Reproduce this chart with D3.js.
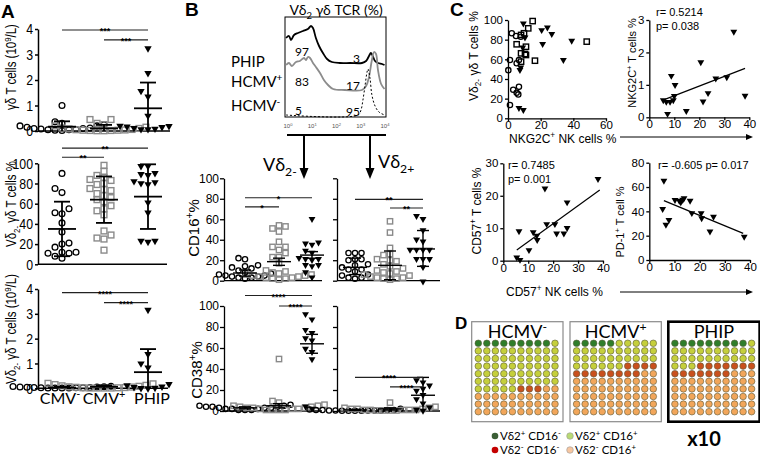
<!DOCTYPE html>
<html><head><meta charset="utf-8">
<script src="https://cdn.jsdelivr.net/npm/d3@7/dist/d3.min.js"></script>
<style>html,body{margin:0;padding:0;background:#fff}svg{display:block}</style>
</head><body>
<svg id="fig" width="760" height="456" viewBox="0 0 760 456"></svg>
<script>
// ================= DATA =================
const groupsA = ["CMV-", "CMV+", "PHIP"];
const histGroups = ["PHIP", "HCMV+", "HCMV-"];
const dGroups = ["HCMV-", "HCMV+", "PHIP"];
const subsetLabels = ["Vδ2+ CD16-", "Vδ2+ CD16+", "Vδ2- CD16-", "Vδ2- CD16+"];

// Panel A, top: γδ T cells (10^9/L)
const a1Neg = [1.0, 0.36, 0.3, 0.25, 0.2, 0.2, 0.15, 0.12, 0.1, 0.1, 0.08, 0.06, 0.05, 0.05, 0.03, 0.02];
const a1Pos = [0.45, 0.45, 0.3, 0.25, 0.2, 0.15, 0.12, 0.1, 0.08, 0.06, 0.05, 0.04, 0.03, 0.03, 0.02, 0.02, 0.01, 0.01];
const a1Phip = [3.27, 2.3, 1.6, 1.38, 0.63, 0.23, 0.22, 0.2, 0.18, 0.15, 0.12, 0.1, 0.1];
const a1Stats = [[0.17, 0, 0.38], [0.1, 0, 0.24], [0.89, 0, 1.9]];
const a1Sig = [[0, 2, "***", 3.96], [1, 2, "***", 3.57]];

// Panel A, middle: Vδ2- γδ T cells %
const a2Neg = [90, 75, 71, 55, 51, 50, 41, 32, 21, 20, 17, 12, 12, 11, 11, 8, 6];
const a2Pos = [98, 92, 88, 86, 84, 83, 80, 79, 75, 74, 73, 70, 68, 66, 64, 62, 58, 55, 53, 49, 33, 29, 26, 25, 14];
const a2Phip = [98, 98, 91, 90, 89, 83, 82, 81, 80, 62, 52, 24, 23, 24];
const a2Stats = [[35, 8, 62], [64, 41, 87], [67, 35, 99]];
const a2Sig = [[0, 2, "**", 115], [0, 1, "**", 106]];

// Panel A, bottom: Vδ2- γδ T cells (10^9/L)
const a3Neg = [0.08, 0.07, 0.06, 0.05, 0.05, 0.04, 0.03, 0.03, 0.02, 0.02, 0.02, 0.01, 0.01, 0.01, 0.01];
const a3Pos = [0.2, 0.18, 0.15, 0.12, 0.1, 0.08, 0.06, 0.05, 0.04, 0.03, 0.02, 0.02, 0.01, 0.01, 0.01, 0.01];
const a3Phip = [3.19, 1.41, 1.03, 0.87, 0.2, 0.15, 0.1, 0.08, 0.05, 0.04, 0.03];
const a3Stats = [[0.03, 0, 0.06], [0.06, 0, 0.12], [0.65, 0, 1.58]];
const a3Sig = [[0, 2, "****", 3.85], [1, 2, "****", 3.45]];

// Panel B histogram: [log10 intensity, relative count]
const histPhip = [[-0.08,28],[0.04,30],[0.12,26],[0.25,31],[0.41,33],[0.62,35],[0.82,37],[0.95,40],[1.03,38],[1.15,28],[1.28,20],[1.44,13],[1.61,7],[1.81,4],[2.14,3],[2.56,3],[3.05,3],[3.22,5],[3.34,10],[3.42,13],[3.51,9],[3.59,5],[3.71,3],[3.88,2],[3.98,1]];
const histPos = [[-0.08,25],[0.04,27],[0.16,24],[0.33,28],[0.49,29],[0.66,32],[0.74,30],[0.82,33],[0.91,32],[1.03,27],[1.15,23],[1.32,17],[1.48,10],[1.65,5],[1.86,1],[2.35,0],[3.05,0],[3.22,4],[3.34,13],[3.46,30],[3.55,38],[3.63,36],[3.71,20],[3.84,6],[3.98,1]];
const histNeg = [[-0.08,0],[2.89,0],[3.01,5],[3.09,15],[3.18,30],[3.26,43],[3.3,46],[3.38,37],[3.46,20],[3.59,9],[3.75,3],[3.98,0]];
const histPct = [[97, 3], [83, 17], [5, 95]];
const histTicks = [0, 1, 2, 3, 4];

// Panel B: CD16+ % (Vδ2- left, Vδ2+ right)
const b16nNeg = [22, 21, 15, 14, 13, 12, 10, 8, 7, 6, 5, 5, 4, 4, 3, 3, 2];
const b16nPos = [54, 53, 51, 48, 38, 33, 33, 30, 27, 23, 23, 17, 10, 9, 8, 7, 6, 6, 5, 5, 4, 4, 3, 3, 2, 2, 1];
const b16nPhip = [61, 38, 37, 36, 30, 28, 23, 22, 22, 21, 16, 16, 15, 9, 4];
const b16nStats = [[7.5, 4.5, 10.5], [18.6, 15, 22], [25, 22, 28.4]];
const b16nSig = [[0, 2, "*", 81], [0, 1, "*", 72]];
const b16pNeg = [27, 27, 27, 21, 21, 20, 16, 15, 13, 11, 11, 9, 6, 5, 3, 3, 2];
const b16pPos = [58, 47, 32, 26, 25, 21, 20, 19, 16, 14, 12, 10, 9, 8, 7, 6, 5, 4, 3, 3, 2, 2, 1];
const b16pPhip = [64, 61, 50, 41, 39, 31, 31, 31, 31, 22, 22, 22, 14, 0];
const b16pStats = [[13, 6, 22], [15, 1, 29], [31, 14, 49]];
const b16pSig = [[0, 2, "**", 79.5], [1, 2, "**", 71]];
// Panel B: CD38+ %
const b38nNeg = [6, 5, 5, 4, 4, 4, 3, 3, 3, 2, 2, 2, 1, 1, 1];
const b38nPos = [49.5, 9.5, 8, 6, 5, 5, 4, 4, 3, 3, 3, 2, 2, 2, 1, 1, 1, 1];
const b38nPhip = [93, 88, 78, 75, 70, 68, 60, 57, 50, 5, 3];
const b38nStats = [[3, 2, 4], [5, 3, 7], [64, 55, 73]];
const b38nSig = [[0, 2, "****", 110], [1, 2, "****", 100]];
const b38pNeg = [2, 1.5, 1, 1, 1, 1, 0.5, 0.5, 0.5, 0.5, 0.5, 0.3, 0.3, 0.2, 0.2];
const b38pPos = [8, 4, 3, 3, 2, 2, 2, 1, 1, 1, 1, 1, 0.5, 0.5, 0.5, 0.5];
const b38pPhip = [30, 28, 25, 22, 20, 16, 12, 8, 4, 2, 1];
const b38pStats = [[1, 0.5, 1.5], [2, 1, 3], [15, 0, 32]];
const b38pSig = [[0, 2, "****", 32], [1, 2, "****", 23]];

// Panel C1: NKG2C+ NK cells % (x) vs Vδ2- γδ T cells % (y)
const c1NegX = [2.3, 4.9, 7.8, 1.2, 0.2, 5.3, 6.7, 3.2, 5.3, 6.3, 6.7, 1.2];
const c1NegY = [86.5, 83.7, 83, 59.3, 49, 56, 59.3, 29, 26, 24.3, 32, 13.5];
const c1PosX = [15.1, 12.4, 9.8, 8.0, 5.3, 11.0, 10.4, 11.0, 8.0, 8.0, 16.5, 48.2];
const c1PosY = [98.9, 91.5, 86.5, 84.8, 75.3, 72.8, 65.4, 64.4, 66.1, 57.6, 58.6, 78];
const c1PhipX = [9.4, 10.4, 9.0, 7.8, 7.3, 6.7, 9.4, 20.6, 24.1, 26.8, 21.2, 33.9, 39.0];
const c1PhipY = [97.3, 83, 72.8, 52.5, 50, 11.2, 9.2, 90.5, 93.2, 86.5, 76.3, 60, 79.6];
// Panel C2: NKG2C+ NK cells % vs NKG2C+ T cells %
const c2X = [5.6, 6.8, 8.3, 9.6, 7.3, 8.8, 10.3, 10.0, 14.8, 20.6, 21.5, 23.5, 26.6, 31.0, 33.8, 38.3];
const c2Y = [0.55, 0.5, 0.5, 0.55, 0.13, 1.3, 1.02, 0.68, 0.22, 1.72, 0.51, 0.77, 1.22, 1.26, 2.66, 0.69];
const c2Fit = [[6.5, 0.56], [38.3, 1.51]];
const c2Stat = ["r= 0.5214", "p= 0.038"];
// Panel C3: CD57+ NK cells % vs CD57+ T cells %
const c3X = [5.4, 6.7, 6.3, 10.3, 12.0, 13.4, 13.6, 16.7, 17.4, 20.7, 21.4, 24.3, 25.6, 25.6, 38.0];
const c3Y = [1.2, 0.5, 9.3, 3.5, 9.0, 7.9, 6.6, 22.5, 11.5, 11.5, 8.6, 8.6, 10.3, 18.2, 25.4];
const c3Fit = [[5.4, 3.3], [38.7, 21.8]];
const c3Stat = ["r= 0.7485", "p= 0.001"];
// Panel C4: CD57+ NK cells % vs PD-1+ T cell %
const c4X = [5.8, 5.3, 6.6, 7.8, 10.2, 11.9, 12.5, 13.3, 13.8, 16.2, 16.9, 20.6, 20.8, 24.1, 25.5, 37.7];
const c4Y = [65.8, 42.5, 29.6, 33.5, 50, 49.3, 48, 50.2, 51.5, 49.3, 39.2, 39.2, 35, 24.1, 36.2, 19.7];
const c4Fit = [[5.8, 48.8], [37.3, 21.9]];
const c4Stat = ["r= -0.605 p= 0.017"];

// Panel D: dot counts per 100 cells [Vδ2+CD16-, Vδ2+CD16+, Vδ2-CD16-, Vδ2-CD16+]
const dNeg = [9, 56, 3, 32];
const dPos = [5, 31, 12, 52];
const dPhip = [9, 24, 14, 53];

// ================= DRAWING =================
const svg = d3.select("#fig");
const F_ARIAL = "'Liberation Sans', Arial, sans-serif";
const F_CAL = "Lato, 'Open Sans', sans-serif";

function squeeze(sel, f) {
  sel.each(function () {
    const L = this.getComputedTextLength();
    d3.select(this).attr("textLength", L * f).attr("lengthAdjust", "spacingAndGlyphs");
  });
}
function txt(parent, x, y, segs, o = {}) {
  const fs = o.size || 12;
  const t = parent.append("text").attr("x", x).attr("y", y)
    .attr("font-size", fs).attr("font-family", o.font || F_ARIAL)
    .attr("text-anchor", o.anchor || "start").attr("fill", o.fill || "#000");
  if (o.weight) t.attr("font-weight", o.weight);
  if (o.rotate) t.attr("transform", `rotate(${o.rotate},${x},${y})`);
  let shift = 0;
  (typeof segs === "string" ? [[segs, "n"]] : segs).forEach(s => {
    const [str, kind] = Array.isArray(s) ? s : [s, "n"];
    const target = kind === "sup" ? -fs * 0.38 : kind === "sub" ? fs * 0.25 : 0;
    const sp = t.append("tspan").text(str);
    if (target - shift !== 0) sp.attr("dy", target - shift);
    if (kind !== "n") sp.attr("font-size", fs * 0.68);
    shift = target;
  });
  if (o.squeeze) squeeze(t, o.squeeze);
  return t;
}
function signSegs(str) {
  const out = [];
  str.split(/([+-])(?=\s|$)/).forEach((p, i) => { if (p) out.push([p, i % 2 ? "sup" : "n"]); });
  return out;
}
function marker(g, shape, x, y, s, col) {
  if (shape === "circle") {
    g.append("circle").attr("cx", x).attr("cy", y).attr("r", s / 2 - 0.6)
      .attr("fill", "none").attr("stroke", col || "#000").attr("stroke-width", 1.3);
  } else if (shape === "square") {
    g.append("rect").attr("x", x - s / 2 + 0.6).attr("y", y - s / 2 + 0.6).attr("width", s - 1.2).attr("height", s - 1.2)
      .attr("fill", "none").attr("stroke", col || "#8a8a8a").attr("stroke-width", 1.4);
  } else {
    g.append("path").attr("d", d3.symbol().type(d3.symbolTriangle).size(s * s * 0.48)())
      .attr("transform", `translate(${x},${y + s * 0.12}) rotate(180)`).attr("fill", col || "#000");
  }
}
const SHAPES = ["circle", "square", "triangle"];

function swarm(vals, yScale, d) {
  const placed = [];
  vals.map(v => ({ v, py: yScale(v) })).sort((a, b) => a.v - b.v).forEach(p => {
    for (let k = 0; k < 60; k++) {
      const off = k === 0 ? 0 : (k % 2 ? -1 : 1) * Math.ceil(k / 2) * d * 0.5;
      if (placed.every(q => Math.abs(q.py - p.py) >= d * 0.85 || Math.abs(q.dx - off) >= d * 0.95)) { p.dx = off; break; }
    }
    if (p.dx === undefined) p.dx = 0;
    placed.push(p);
  });
  return placed;
}

function dotPlot(o) {
  const g = svg.append("g");
  const y = d3.scaleLinear().domain([0, o.max]).range([o.bot, o.top]);
  const ax = d3.axisLeft(y).tickValues(o.ticks).tickSize(o.tick || 4).tickSizeOuter(0).tickPadding(o.pad ?? 2)
    .tickFormat(o.labels ? d3.format("d") : "");
  const ag = g.append("g").attr("transform", `translate(${o.xL},0)`).call(ax);
  ag.selectAll(".domain, .tick line").attr("stroke-width", o.sw || 1.4);
  const tt = ag.selectAll("text").attr("font-size", o.fs || 14).attr("font-family", F_ARIAL).attr("fill", "#000");
  if (o.squeeze && o.labels) squeeze(tt, o.squeeze);
  g.append("line").attr("x1", o.xL).attr("x2", o.xR).attr("y1", o.bot).attr("y2", o.bot)
    .attr("stroke", "#000").attr("stroke-width", o.sw || 1.4);
  o.data.forEach((vals, gi) => {
    swarm(vals, y, o.ms).forEach(p => marker(g, SHAPES[gi], o.centers[gi] + p.dx, p.py, o.ms));
  });
  o.stats.forEach(([m, lo, hi], gi) => {
    const c = o.centers[gi];
    const L = (x1, y1, x2, y2) => g.append("line").attr("x1", x1).attr("y1", y1).attr("x2", x2).attr("y2", y2)
      .attr("stroke", "#000").attr("stroke-width", o.lw || 1.6);
    const yl = y(Math.max(lo, 0)), yh = y(hi), ym = y(m);
    L(c, yl, c, yh);
    L(c - o.mw, ym, c + o.mw, ym);
    L(c - o.cw, yh, c + o.cw, yh);
    if (lo > 0) L(c - o.cw, yl, c + o.cw, yl);
  });
  o.sig.forEach(([a, b, lab, v]) => {
    const yy = y(v);
    g.append("line").attr("x1", o.centers[a]).attr("x2", o.centers[b]).attr("y1", yy).attr("y2", yy)
      .attr("stroke", "#222").attr("stroke-width", 1.2);
    txt(g, (o.centers[a] + o.centers[b]) / 2, yy + 4, lab, { size: 9, anchor: "middle", weight: "bold" });
  });
  return y;
}

// ---------- Panel A ----------
txt(svg, 1, 18, "A", { size: 19, weight: "bold" });
const cA = [62, 104, 148];
const aLabelX = [60, 104, 152];
const aCommon = { xL: 38, centers: cA, labels: true, ms: 7, mw: 14, cw: 8, fs: 15, squeeze: 0.82, tick: 3, pad: 2, sw: 1.5, lw: 1.8 };
dotPlot({ ...aCommon, xR: 170, top: 29, bot: 131, max: 4, ticks: [0, 1, 2, 3, 4], data: [a1Neg, a1Pos, a1Phip], stats: a1Stats, sig: a1Sig });
dotPlot({ ...aCommon, xR: 167, top: 163.3, bot: 264.3, max: 100, ticks: [0, 20, 40, 60, 80, 100], data: [a2Neg, a2Pos, a2Phip], stats: a2Stats, sig: a2Sig });
dotPlot({ ...aCommon, xR: 168, top: 289, bot: 388.3, max: 4, ticks: [0, 1, 2, 3, 4], data: [a3Neg, a3Pos, a3Phip], stats: a3Stats, sig: a3Sig });
txt(svg, 16, 67, ["γδ T cells (10", ["9", "sup"], "/L)"], { size: 14, anchor: "middle", rotate: -90, squeeze: 0.82 });
txt(svg, 16, 204, ["Vδ", ["2-", "sub"], " γδ T cells %"], { size: 14, anchor: "middle", rotate: -90, squeeze: 0.82 });
txt(svg, 16, 329, ["Vδ", ["2-", "sub"], " γδ T cells (10", ["9", "sup"], "/L)"], { size: 14, anchor: "middle", rotate: -90, squeeze: 0.82 });
groupsA.forEach((gname, i) => txt(svg, aLabelX[i], 404, signSegs(gname), { size: 16, anchor: "middle", font: F_CAL }));

// ---------- Panel B ----------
txt(svg, 185, 16, "B", { size: 19, weight: "bold" });
const hx = d3.scaleLinear().domain([0, 4]).range([288, 385]);
const hy = d3.scaleLinear().domain([0, 100]).range([117, 17]);
const histOffsets = [51, 27, 2];
svg.append("rect").attr("x", 285).attr("y", 17).attr("width", 101).attr("height", 100)
  .attr("fill", "none").attr("stroke", "#000").attr("stroke-width", 1);
const hline = (off) => d3.line().x(d => hx(d[0])).y(d => hy(off + d[1])).curve(d3.curveCatmullRom.alpha(0.5));
[[histPhip, "#000", null, 1.8], [histPos, "#8c8c8c", null, 1.8], [histNeg, "#000", "2,2", 1]].forEach(([d, col, dash, w], i) => {
  const p = svg.append("path").attr("d", hline(histOffsets[i])(d)).attr("fill", "none").attr("stroke", col).attr("stroke-width", w);
  if (dash) p.attr("stroke-dasharray", dash);
});
histTicks.forEach(t => txt(svg, hx(t), 128, ["10", [String(t), "sup"]], { size: 6, anchor: "middle", fill: "#555" }));
const pctY = [56, 86, 115];
histPct.forEach(([l, r], i) => {
  txt(svg, 295, pctY[i], String(l), { size: 12, font: F_CAL });
  txt(svg, 360, pctY[i] + 7 - i * 3, String(r), { size: 12, font: F_CAL, anchor: "end" });
});
const histLabY = [67, 87, 111];
histGroups.forEach((gname, i) => txt(svg, 231, histLabY[i], signSegs(gname), { size: 15, font: F_CAL }));
txt(svg, 336, 15, ["Vδ", ["2", "sub"], " γδ TCR (%)"], { size: 14, anchor: "middle", font: F_CAL });
// arrows
svg.append("line").attr("x1", 287).attr("x2", 386).attr("y1", 135).attr("y2", 135).attr("stroke", "#000").attr("stroke-width", 2);
[304, 370].forEach(x => {
  svg.append("line").attr("x1", x).attr("x2", x).attr("y1", 135).attr("y2", 170).attr("stroke", "#000").attr("stroke-width", 2);
  svg.append("path").attr("d", `M${x - 4.5},168 L${x + 4.5},168 L${x},179 Z`).attr("fill", "#000");
});
txt(svg, 263, 171, ["Vδ", ["2-", "sub"]], { size: 18, font: F_CAL });
txt(svg, 378, 168, ["Vδ", ["2+", "sub"]], { size: 18, font: F_CAL });

const cBL = [245, 279, 312], cBR = [355, 390, 423];
const bCommon = { ms: 6.5, mw: 12, cw: 6, fs: 12, tick: 4, pad: 1, sw: 1.3, lw: 1.4 };
const pctTicks = [0, 20, 40, 60, 80, 100];
dotPlot({ ...bCommon, xL: 224, xR: 322, top: 178.3, bot: 280.7, max: 100, ticks: pctTicks, labels: true, centers: cBL, data: [b16nNeg, b16nPos, b16nPhip], stats: b16nStats, sig: b16nSig });
dotPlot({ ...bCommon, xL: 337, xR: 440, top: 178.3, bot: 280.7, max: 100, ticks: pctTicks, labels: false, centers: cBR, data: [b16pNeg, b16pPos, b16pPhip], stats: b16pStats, sig: b16pSig });
dotPlot({ ...bCommon, xL: 224, xR: 322, top: 306, bot: 411, max: 100, ticks: pctTicks, labels: true, centers: cBL, data: [b38nNeg, b38nPos, b38nPhip], stats: b38nStats, sig: b38nSig });
dotPlot({ ...bCommon, xL: 337, xR: 440, top: 306, bot: 411, max: 100, ticks: pctTicks, labels: false, centers: cBR, data: [b38pNeg, b38pPos, b38pPhip], stats: b38pStats, sig: b38pSig });
txt(svg, 199, 228, ["CD16", ["+", "sup"], "%"], { size: 15, anchor: "middle", rotate: -90 });
txt(svg, 202, 370, ["CD38", ["+", "sup"], "%"], { size: 15, anchor: "middle", rotate: -90 });

// ---------- Panel C ----------
txt(svg, 450, 16, "C", { size: 19, weight: "bold" });
function scatter(o) {
  const g = svg.append("g");
  const x = d3.scaleLinear().domain([0, o.xMax]).range([o.xL, o.xR]);
  const y = d3.scaleLinear().domain([0, o.yMax]).range([o.yBot, o.yTop]);
  const ay = g.append("g").attr("transform", `translate(${o.xL},0)`)
    .call(d3.axisLeft(y).tickValues(o.yTicks).tickSize(3).tickSizeOuter(0).tickPadding(2).tickFormat(d3.format("d")));
  const axx = g.append("g").attr("transform", `translate(0,${o.yBot})`)
    .call(d3.axisBottom(x).tickValues(o.xTicks).tickSize(3).tickSizeOuter(0).tickPadding(0).tickFormat(d3.format("d")));
  [ay, axx].forEach(a => {
    a.selectAll(".domain, .tick line").attr("stroke-width", 1.3);
    a.selectAll("text").attr("font-size", 11.5).attr("font-family", F_ARIAL).attr("fill", "#000");
  });
  o.sets.forEach(s => s.xs.forEach((xv, i) => marker(g, s.shape, x(xv), y(s.ys[i]), 6.5, s.col)));
  if (o.fit) g.append("line").attr("x1", x(o.fit[0][0])).attr("y1", y(o.fit[0][1])).attr("x2", x(o.fit[1][0])).attr("y2", y(o.fit[1][1]))
    .attr("stroke", "#000").attr("stroke-width", 1.2);
  if (o.stat) o.stat.forEach((s, i) => txt(g, o.statX, o.statY + i * 14, s, { size: 11 }));
}
scatter({ xL: 508, xR: 606, yTop: 20, yBot: 118.3, xMax: 60, yMax: 100, xTicks: [0, 20, 40, 60], yTicks: [0, 20, 40, 60, 80, 100],
  sets: [{ xs: c1NegX, ys: c1NegY, shape: "circle" }, { xs: c1PosX, ys: c1PosY, shape: "square", col: "#000" }, { xs: c1PhipX, ys: c1PhipY, shape: "triangle" }] });
scatter({ xL: 649.3, xR: 749.3, yTop: 20, yBot: 117.3, xMax: 40, yMax: 3, xTicks: [0, 10, 20, 30, 40], yTicks: [0, 1, 2, 3],
  sets: [{ xs: c2X, ys: c2Y, shape: "triangle" }], fit: c2Fit, stat: c2Stat, statX: 656, statY: 16 });
scatter({ xL: 503.3, xR: 603, yTop: 163.3, yBot: 260.7, xMax: 40, yMax: 30, xTicks: [0, 10, 20, 30, 40], yTicks: [0, 10, 20, 30],
  sets: [{ xs: c3X, ys: c3Y, shape: "triangle" }], fit: c3Fit, stat: c3Stat, statX: 508, statY: 169 });
scatter({ xL: 649.3, xR: 750, yTop: 162.7, yBot: 260, xMax: 40, yMax: 80, xTicks: [0, 10, 20, 30, 40], yTicks: [0, 20, 40, 60, 80],
  sets: [{ xs: c4X, ys: c4Y, shape: "triangle" }], fit: c4Fit, stat: c4Stat, statX: 658, statY: 169 });
txt(svg, 478, 56, ["Vδ", ["2-", "sub"], " γδ T cells %"], { size: 12, anchor: "middle", rotate: -90 });
txt(svg, 636, 63, ["NKG2C", ["+", "sup"], " T cells %"], { size: 11, anchor: "middle", rotate: -90 });
txt(svg, 481, 211, ["CD57", ["+", "sup"], " T cells %"], { size: 12, anchor: "middle", rotate: -90 });
txt(svg, 624, 222, ["PD-1", ["+", "sup"], " T cell %"], { size: 11, anchor: "middle", rotate: -90 });
txt(svg, 509, 143, ["NKG2C", ["+", "sup"], " NK cells %"], { size: 12 });
txt(svg, 506, 296, ["CD57", ["+", "sup"], " NK cells %"], { size: 12 });
[137, 292].forEach(yy => {
  svg.append("line").attr("x1", 620).attr("x2", 746).attr("y1", yy).attr("y2", yy).attr("stroke", "#000").attr("stroke-width", 1);
  svg.append("path").attr("d", `M746,${yy - 3} L753,${yy} L746,${yy + 3} Z`).attr("fill", "#000");
});

// ---------- Panel D ----------
txt(svg, 455, 329, "D", { size: 17, weight: "bold" });
const dotColors = ["#2f7d2a", "#c5cf3b", "#c9501d", "#f2a65a"];
const boxX = [471.7, 570, 668.3];
[dNeg, dPos, dPhip].forEach((counts, bi) => {
  const bx = boxX[bi], by = 321.7, bw = 91.3, bh = 100;
  svg.append("rect").attr("x", bx).attr("y", by).attr("width", bw).attr("height", bh).attr("fill", "#fff")
    .attr("stroke", bi === 2 ? "#000" : "#8a8a8a").attr("stroke-width", bi === 2 ? 2.6 : 1.2);
  txt(svg, bx + bw / 2, by + 16, signSegs(dGroups[bi]), { size: 18, anchor: "middle", font: F_CAL });
  const cats = [];
  counts.forEach((n, ci) => { for (let k = 0; k < n; k++) cats.push(ci); });
  const xs = d3.scalePoint().domain(d3.range(10)).range([bx + 6.6, bx + 83.3]);
  const ys = d3.scalePoint().domain(d3.range(10)).range([by + 21.6, by + 90]);
  cats.forEach((c, k) => svg.append("circle").attr("cx", xs(k % 10)).attr("cy", ys(Math.floor(k / 10))).attr("r", 3.3)
    .attr("fill", dotColors[c]).attr("stroke", "#5a5a3a").attr("stroke-width", 0.6));
});
const legCols = ["#3b5e35", "#b9da74", "#c40000", "#f7c6a0"];
const legPos = [[495, 440], [570, 440], [495, 454], [570, 454]];
subsetLabels.forEach((lab, i) => {
  const [lx, ly] = legPos[i];
  svg.append("circle").attr("cx", lx).attr("cy", ly - 4).attr("r", 3.3).attr("fill", legCols[i])
    .attr("stroke", i % 2 ? "#999" : "none").attr("stroke-width", 0.6);
  txt(svg, lx + 5, ly, signSegs(lab), { size: 11.5, font: F_CAL });
});
txt(svg, 704, 446, "x10", { size: 20, weight: "bold", anchor: "middle", font: F_CAL });
</script>
</body></html>
